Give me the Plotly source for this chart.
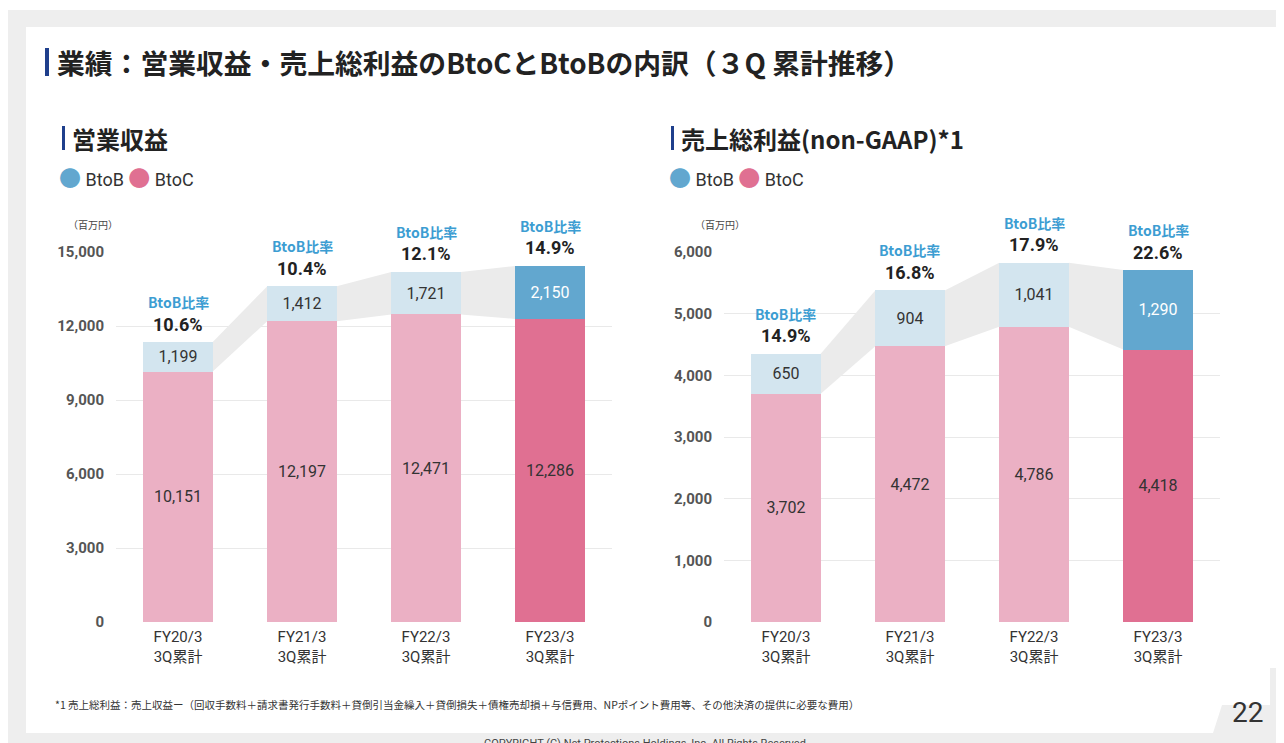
import plotly.graph_objects as go

W, H = 1284, 743
# page body adds an 8px white margin round the figure
OX, OY = 8, 8

categories = ["FY20/3<br>3Q累計", "FY21/3<br>3Q累計", "FY22/3<br>3Q累計", "FY23/3<br>3Q累計"]

rev_btoc = [10151, 12197, 12471, 12286]
rev_btob = [1199, 1412, 1721, 2150]
rev_ratio = ["10.6%", "10.4%", "12.1%", "14.9%"]

gp_btoc = [3702, 4472, 4786, 4418]
gp_btob = [650, 904, 1041, 1290]
gp_ratio = ["14.9%", "16.8%", "17.9%", "22.6%"]

rev_ticks = [0, 3000, 6000, 9000, 12000, 15000]
gp_ticks = [0, 1000, 2000, 3000, 4000, 5000, 6000]

BTOC_LIGHT = "#ebb0c4"
BTOC_DARK = "#e07092"
BTOB_LIGHT = "#d3e5ef"
BTOB_DARK = "#62a7cf"
BLUE_TXT = "#3c9dd2"
NAVY = "#1f3f8c"
JP = "Noto Sans CJK JP"
NUM = "Roboto, Noto Sans CJK JP"
BAR_W = 0.56


def px(x):
    return (x - OX) / W


def py(y):
    return 1 - (y - OY) / H


fig = go.Figure()


def add_chart(btoc, btob, ratio, xa, ya):
    n = len(btoc)
    xs = list(range(n))
    tops = [c + b for c, b in zip(btoc, btob)]
    # gray bridges between bars
    for i in range(n - 1):
        x0 = xs[i] + BAR_W / 2
        x1 = xs[i + 1] - BAR_W / 2
        fig.add_trace(go.Scatter(
            x=[x0, x0, x1, x1, x0],
            y=[btoc[i], tops[i], tops[i + 1], btoc[i + 1], btoc[i]],
            fill="toself", fillcolor="#ebebeb", mode="lines",
            line=dict(width=0, color="#ebebeb"), hoverinfo="skip",
            showlegend=False, xaxis=xa, yaxis=ya, zorder=-1,
        ))
    c_colors = [BTOC_LIGHT] * (n - 1) + [BTOC_DARK]
    b_colors = [BTOB_LIGHT] * (n - 1) + [BTOB_DARK]
    b_txt = ["#333333"] * (n - 1) + ["white"]
    fig.add_trace(go.Bar(
        x=xs, y=btoc, width=BAR_W, marker=dict(color=c_colors, line=dict(width=0)),
        text=[f"{v:,}" for v in btoc], textposition="inside",
        insidetextanchor="middle", textangle=0,
        textfont=dict(size=16, color="#333333", family=NUM),
        showlegend=False, xaxis=xa, yaxis=ya, zorder=1,
    ))
    fig.add_trace(go.Bar(
        x=xs, y=btob, width=BAR_W, marker=dict(color=b_colors, line=dict(width=0)),
        text=[f"{v:,}" for v in btob], textposition="inside",
        insidetextanchor="middle", textangle=0,
        textfont=dict(size=16, color=b_txt, family=NUM),
        showlegend=False, xaxis=xa, yaxis=ya, zorder=1,
    ))
    yref = ya.replace("axis", "")
    for i in range(n):
        fig.add_annotation(x=xs[i], y=tops[i], xref=xa, yref=yref,
                           text="<b>BtoB比率</b>", showarrow=False, yshift=40,
                           font=dict(size=14, color=BLUE_TXT, family=JP))
        fig.add_annotation(x=xs[i], y=tops[i], xref=xa, yref=yref,
                           text=f"<b>{ratio[i]}</b>", showarrow=False, yshift=18,
                           font=dict(size=18, color="#222222", family=NUM))


add_chart(rev_btoc, rev_btob, rev_ratio, "x", "y")
add_chart(gp_btoc, gp_btob, gp_ratio, "x2", "y2")

ydom = [py(622), py(252)]
axis_common = dict(
    showgrid=True, gridcolor="#e9e9e9", gridwidth=1, zeroline=False,
    showline=True, linecolor="#c8c8c8", linewidth=2, ticks="", automargin=False,
    tickfont=dict(size=15, color="#555555", family=NUM, weight="bold"),
    tickformat=",d", ticklabelstandoff=7,
)
xaxis_common = dict(
    range=[-0.5, 3.5], tickvals=[0, 1, 2, 3], ticktext=categories,
    showgrid=False, zeroline=False, showline=True, linecolor="#c8c8c8",
    linewidth=2, ticks="", automargin=False,
    tickfont=dict(size=15, color="#333333", family=NUM),
)

fig.update_layout(
    width=W, height=H, margin=dict(l=0, r=0, t=0, b=0, autoexpand=False),
    paper_bgcolor="white", plot_bgcolor="white",
    barmode="stack", showlegend=False,
    font=dict(family=JP, color="#222222"),
    xaxis=dict(domain=[px(116), px(612)], anchor="y", **xaxis_common),
    yaxis=dict(domain=ydom, anchor="x", range=[0, 15000], tickvals=rev_ticks, **axis_common),
    xaxis2=dict(domain=[px(724), px(1220)], anchor="y2", **xaxis_common),
    yaxis2=dict(domain=ydom, anchor="x2", range=[0, 6000], tickvals=gp_ticks, **axis_common),
)

shapes = [
    dict(type="rect", xref="paper", yref="paper", x0=0, x1=1, y0=0, y1=py(10),
         fillcolor="#eeeeee", line=dict(width=0), layer="below"),
    dict(type="rect", xref="paper", yref="paper", x0=px(26), x1=px(1278), y0=py(733), y1=py(27),
         fillcolor="white", line=dict(width=0), layer="below"),
    dict(type="path", xref="paper", yref="paper", layer="below",
         path=(f"M {px(1270)},{py(668)} L {px(1278)},{py(668)} L {px(1278)},{py(733)} "
               f"L {px(1213)},{py(733)} L {px(1222)},{py(705)} L {px(1270)},{py(705)} Z"),
         fillcolor="#eeeeee", line=dict(width=0)),
    # heading bars
    dict(type="rect", xref="paper", yref="paper", x0=px(45), x1=px(49), y0=py(76), y1=py(48),
         fillcolor=NAVY, line=dict(width=0)),
    dict(type="rect", xref="paper", yref="paper", x0=px(62), x1=px(65), y0=py(150), y1=py(126),
         fillcolor=NAVY, line=dict(width=0)),
    dict(type="rect", xref="paper", yref="paper", x0=px(671), x1=px(674), y0=py(150), y1=py(126),
         fillcolor=NAVY, line=dict(width=0)),
]
fig.update_layout(shapes=shapes)


def note(x, y, text, size, color="#222222", family=JP, xanchor="left"):
    fig.add_annotation(x=px(x), y=py(y), xref="paper", yref="paper", text=text,
                       showarrow=False, xanchor=xanchor, yanchor="middle",
                       font=dict(size=size, color=color, family=family))


note(55, 62, "<b>業績：営業収益・売上総利益のBtoCとBtoBの内訳（３Q 累計推移）</b>", 27.8)
note(70, 138, "<b>営業収益</b>", 24)
note(679, 138, "<b>売上総利益(non-GAAP)*1</b>", 24)

legend_txt = (f"<span style='color:{BTOB_DARK};font-size:22px'>●</span> BtoB "
              f"<span style='color:{BTOC_DARK};font-size:22px'>●</span> BtoC")
note(57, 179, legend_txt, 18, color="#333333", family=NUM)
note(667, 179, legend_txt, 18, color="#333333", family=NUM)

note(66, 224, "（百万円）", 10, color="#444444")
note(693, 224, "（百万円）", 10, color="#444444")

note(53, 704, "*1 売上総利益：売上収益ー（回収手数料＋請求書発行手数料＋貸倒引当金繰入＋貸倒損失＋債権売却損＋与信費用、NPポイント費用等、その他決済の提供に必要な費用）",
     10.5, color="#333333")
note(1265, 712, "22", 28, color="#333333", family=NUM, xanchor="right")
note(645, 743, "COPYRIGHT (C) Net Protections Holdings, Inc. All Rights Reserved",
     11, color="#444444", family=NUM, xanchor="center")

fig.write_html("out.html", config={"displayModeBar": False})
